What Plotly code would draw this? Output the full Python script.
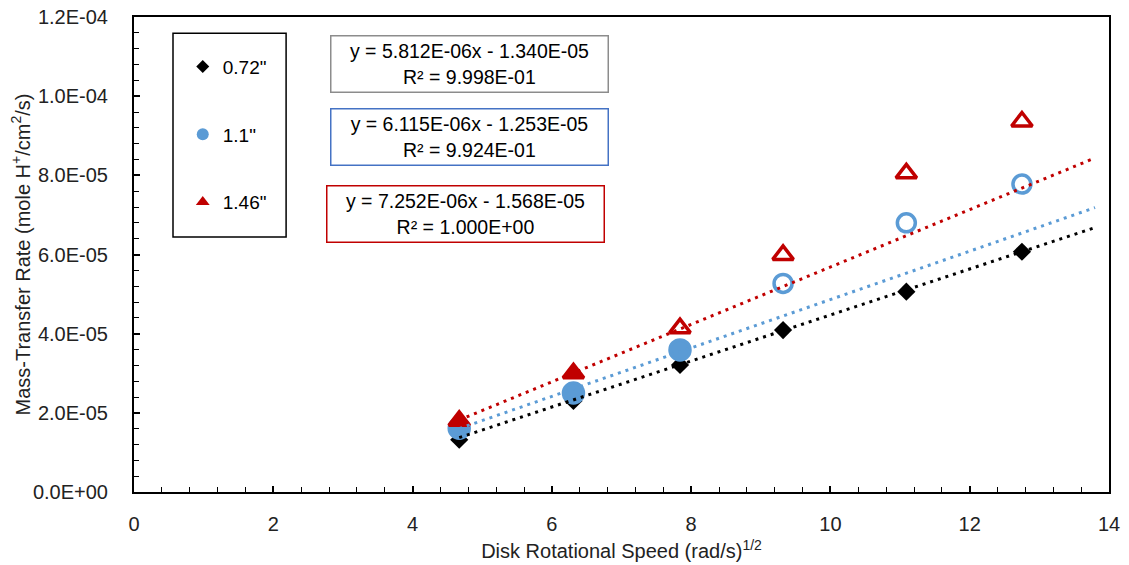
import plotly.graph_objects as go

# ---------------- data ----------------
speed = [4.67, 6.31, 7.84, 9.32, 11.09, 12.75]          # (rad/s)^1/2
rate_072 = [1.32e-5, 2.30e-5, 3.21e-5, 4.09e-5, 5.06e-5, 6.07e-5]
rate_110 = [1.61e-5, 2.50e-5, 3.59e-5, 5.27e-5, 6.80e-5, 7.78e-5]
rate_146 = [1.80e-5, 3.00e-5, 4.14e-5, 5.99e-5, 8.05e-5, 9.36e-5]

series_names = ['0.72"', '1.1"', '1.46"']
n_fit = [6, 3, 2]                     # points used for each trendline (filled markers)
slopes = [5.812e-6, 6.115e-6, 7.252e-6]
intercepts = [-1.340e-5, -1.253e-5, -1.568e-5]
fit_x_end = 13.8

eq_texts = [
    "y = 5.812E-06x - 1.340E-05<br>R² = 9.998E-01",
    "y = 6.115E-06x - 1.253E-05<br>R² = 9.924E-01",
    "y = 7.252E-06x - 1.568E-05<br>R² = 1.000E+00",
]

y_tickvals = [0, 2e-5, 4e-5, 6e-5, 8e-5, 1.0e-4, 1.2e-4]
y_ticktext = ["0.0E+00", "2.0E-05", "4.0E-05", "6.0E-05", "8.0E-05", "1.0E-04", "1.2E-04"]

x_title = "Disk Rotational Speed (rad/s)<sup>1/2</sup>"
y_title = "Mass-Transfer Rate (mole H<sup>+</sup>/cm<sup>2</sup>/s)"

# ---------------- style ----------------
FONT = "Liberation Sans, Arial, sans-serif"
colors = ["#000000", "#5B9BD5", "#C00000"]
box_colors = ["#8C8C8C", "#4472C4", "#C00000"]
sym_fill = ["diamond", "circle", "triangle-up"]
sym_open = ["diamond-open", "circle-open", "triangle-up-open"]
sizes = [14, 20, 18]
open_sizes = [14, 18, 18]
leg_sizes = [10, 12, 12]

fig = go.Figure()
all_rates = [rate_072, rate_110, rate_146]

# markers
for i, rates in enumerate(all_rates):
    symbols = [sym_fill[i] if k < n_fit[i] else sym_open[i] for k in range(len(rates))]
    msizes = [sizes[i] if k < n_fit[i] else open_sizes[i] for k in range(len(rates))]
    fig.add_trace(go.Scatter(
        x=speed, y=rates, mode="markers", showlegend=False,
        marker=dict(symbol=symbols, size=msizes, color=colors[i], opacity=1,
                    line=dict(color=colors[i], width=3.5 if i else 0)),
    ))

# trendlines
for i in range(3):
    xs = [speed[0], fit_x_end]
    ys = [slopes[i] * x + intercepts[i] for x in xs]
    fig.add_trace(go.Scatter(
        x=xs, y=ys, mode="lines", showlegend=False,
        line=dict(color=colors[i], width=3, dash="3px,5px"),
    ))

# legend entries
for i in range(3):
    fig.add_trace(go.Scatter(
        x=[None], y=[None], mode="markers", name=series_names[i],
        legendgroup=f"g{i}",
        marker=dict(symbol=sym_fill[i], size=leg_sizes[i], color=colors[i]),
    ))

# equation boxes
eq_pos = [(0.3436, 0.901), (0.3446, 0.747), (0.3395, 0.585)]
for i in range(3):
    fig.add_annotation(
        x=eq_pos[i][0], y=eq_pos[i][1], xref="paper", yref="paper",
        xanchor="center", yanchor="middle",
        text=eq_texts[i], showarrow=False, align="center", valign="middle",
        width=272, height=51, borderpad=2, borderwidth=1.5,
        bordercolor=box_colors[i], bgcolor="white",
        font=dict(family=FONT, size=19.5, color="#000000"),
    )

# y-axis title (placed as rotated text)
fig.add_annotation(
    x=-0.1159, y=0.5, xref="paper", yref="paper", xanchor="center", yanchor="middle",
    text=y_title, textangle=-90, showarrow=False,
    font=dict(family=FONT, size=20, color="#222222"),
)

# legend frame
fig.add_shape(type="rect", xref="paper", yref="paper",
              x0=0.040, x1=0.156, y0=0.537, y1=0.966,
              line=dict(color="black", width=1.5), fillcolor="white", layer="below")

axis_common = dict(
    showline=True, linecolor="black", linewidth=2, mirror=True,
    showgrid=False, zeroline=False, automargin=False,
    ticks="inside", ticklen=6, tickwidth=1.5, tickcolor="black",
    tickfont=dict(family=FONT, size=20, color="#222222"),
)

fig.update_xaxes(
    range=[0, 14], tickmode="linear", tick0=0, dtick=2,
    minor=dict(ticks="inside", ticklen=5, tickwidth=1.2, tickcolor="black", dtick=0.4, tick0=0),
    title=dict(text=x_title, font=dict(family=FONT, size=20, color="#222222"), standoff=10),
    ticklabelstandoff=13,
    **axis_common,
)
fig.update_yaxes(
    range=[0, 1.2e-4], tickmode="array", tickvals=y_tickvals, ticktext=y_ticktext,
    minor=dict(ticks="inside", ticklen=5, tickwidth=1.2, tickcolor="black",
               tickmode="linear", dtick=4e-6, tick0=0),
    ticklabelstandoff=20,
    **axis_common,
)

fig.update_layout(
    width=1129, height=565,
    margin=dict(l=134, r=20, t=17, b=73),
    plot_bgcolor="white", paper_bgcolor="white",
    showlegend=True,
    legend=dict(x=0.05, y=0.9353, xanchor="left", yanchor="top",
                bgcolor="rgba(0,0,0,0)", borderwidth=0,
                tracegroupgap=40, itemwidth=30,
                font=dict(family=FONT, size=19, color="#000000")),
)

fig.write_html("out.html")
